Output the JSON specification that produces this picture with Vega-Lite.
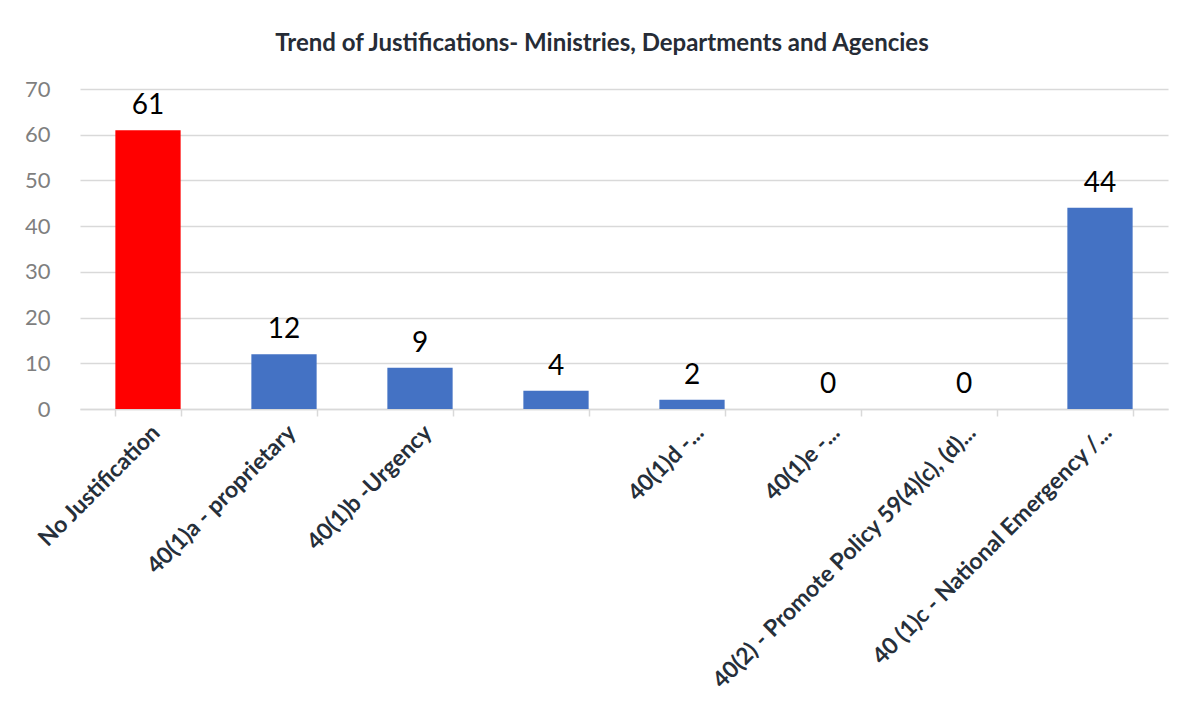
{
  "$schema": "https://vega.github.io/schema/vega-lite/v6.json",
  "autosize": {"type": "none"},
  "padding": {"left": 80, "top": 89, "right": 11, "bottom": 294},
  "width": 1088,
  "height": 320,
  "background": "white",
  "config": {
    "font": "Lato",
    "view": {"stroke": null}
  },
  "title": {
    "text": "Trend of Justifications- Ministries, Departments and Agencies",
    "font": "Lato",
    "fontSize": 24,
    "fontWeight": "bold",
    "color": "#262c36",
    "anchor": "middle",
    "dx": -22,
    "offset": 22
  },
  "data": {
    "values": [
      {"category": "No Justification", "count": 61, "group": "none"},
      {"category": "40(1)a - proprietary", "count": 12, "group": "justified"},
      {"category": "40(1)b -Urgency", "count": 9, "group": "justified"},
      {"category": " ", "count": 4, "group": "justified"},
      {"category": "40(1)d -...", "count": 2, "group": "justified"},
      {"category": "40(1)e -...", "count": 0, "group": "justified"},
      {"category": "40(2) - Promote Policy 59(4)(c), (d)...", "count": 0, "group": "justified"},
      {"category": "40 (1)c - National Emergency /...", "count": 44, "group": "justified"}
    ]
  },
  "encoding": {
    "x": {
      "field": "category",
      "type": "nominal",
      "sort": null,
      "scale": {"paddingInner": 0.52, "paddingOuter": 0.26},
      "axis": {
        "title": null,
        "labelAngle": -45,
        "labelFont": "Lato",
        "labelFontSize": 23,
        "labelFontWeight": "bold",
        "labelColor": "#262f3a",
        "labelPadding": 5,
        "domainColor": "#d9d9d9",
        "domainWidth": 1.5,
        "tickColor": "#d9d9d9",
        "tickWidth": 1.5,
        "tickSize": 7,
        "tickBand": "extent",
        "labelLimit": 600
      }
    },
    "y": {
      "field": "count",
      "type": "quantitative",
      "scale": {"domain": [0, 70]},
      "axis": {
        "title": null,
        "values": [0, 10, 20, 30, 40, 50, 60, 70],
        "labelFont": "Lato",
        "labelFontSize": 22,
        "labelColor": "#7f7f7f",
        "labelPadding": 30,
        "domain": false,
        "ticks": false,
        "gridColor": "#d9d9d9",
        "gridWidth": 1.5
      }
    }
  },
  "layer": [
    {
      "mark": {"type": "bar"},
      "encoding": {
        "color": {
          "field": "group",
          "type": "nominal",
          "scale": {"domain": ["none", "justified"], "range": ["#ff0000", "#4472c4"]},
          "legend": null
        }
      }
    },
    {
      "mark": {"type": "text", "baseline": "bottom", "dy": -10, "fontSize": 28, "font": "Lato", "color": "#000000"},
      "encoding": {
        "text": {"field": "count", "type": "quantitative"}
      }
    }
  ]
}
